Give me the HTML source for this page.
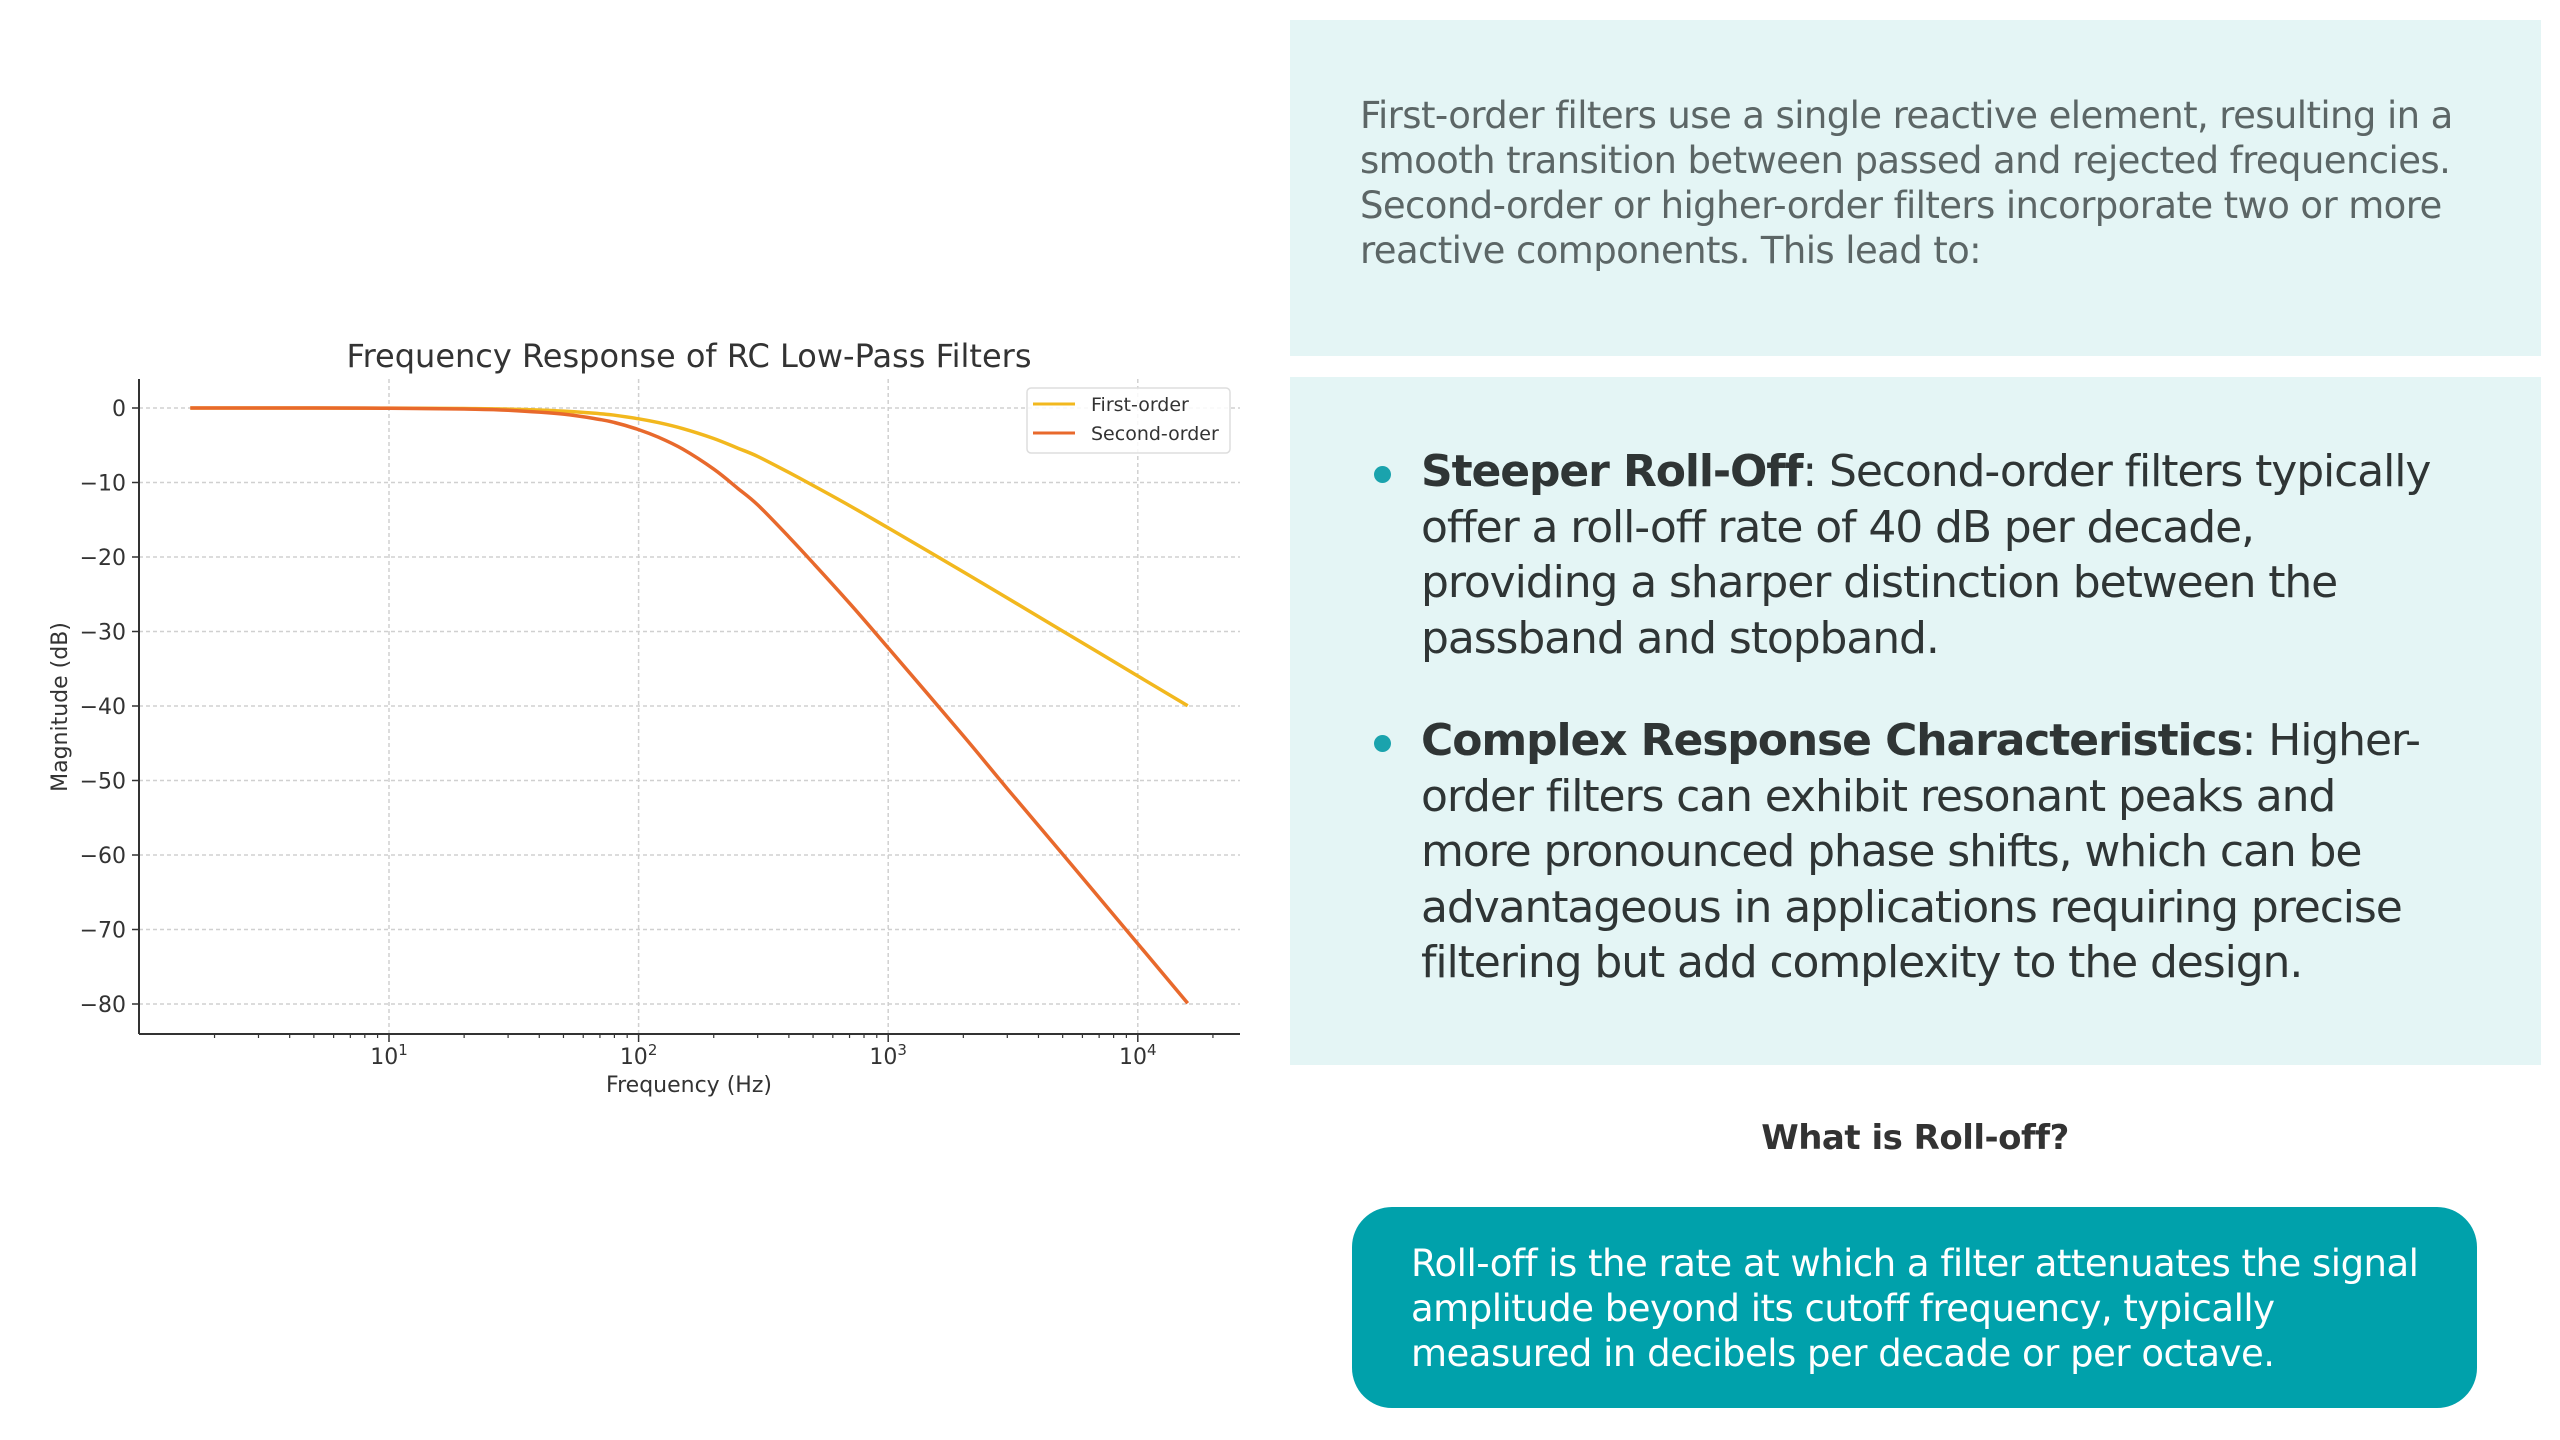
<!DOCTYPE html>
<html><head><meta charset="utf-8">
<style>
body{margin:0;width:2560px;height:1440px;background:#fff;position:relative;overflow:hidden;font-family:"DejaVu Sans","Liberation Sans",sans-serif;}
.box{position:absolute;background:#e4f5f5;}
#p1{position:absolute;left:1360px;top:93px;white-space:nowrap;font-size:37px;line-height:45px;color:#5c6666;letter-spacing:-0.6px;}
ul{position:absolute;left:1380px;top:444px;margin:0;padding:0;list-style:none;font-size:44px;line-height:55.5px;color:#2f3535;letter-spacing:-1.1px;white-space:nowrap;}
li{position:relative;padding-left:41px;margin-bottom:47px;}
li:before{content:"";position:absolute;left:-6px;top:22px;width:17px;height:17px;border-radius:50%;background:#1aa3ad;}
#q{position:absolute;left:1380px;width:1070px;top:1118px;text-align:center;font-size:34px;font-weight:bold;color:#333;letter-spacing:-0.5px;}
#def{position:absolute;left:1352px;top:1207px;width:1125px;height:201px;border-radius:40px;background:#00a1ab;color:#fff;box-sizing:border-box;padding:34px 0 0 59px;font-size:37px;line-height:45px;letter-spacing:-0.5px;white-space:nowrap;}
</style></head><body>
<div class="box" style="left:1290px;top:20px;width:1251px;height:336px"></div>
<div id="p1">First-order filters use a single reactive element, resulting in a<br>smooth transition between passed and rejected frequencies.<br>Second-order or higher-order filters incorporate two or more<br>reactive components. This lead to:</div>
<div class="box" style="left:1290px;top:377px;width:1251px;height:688px"></div>
<ul>
<li><b>Steeper Roll-Off</b>: Second-order filters typically<br>offer a roll-off rate of 40 dB per decade,<br>providing a sharper distinction between the<br>passband and stopband.</li>
<li><b>Complex Response Characteristics</b>: Higher-<br>order filters can exhibit resonant peaks and<br>more pronounced phase shifts, which can be<br>advantageous in applications requiring precise<br>filtering but add complexity to the design.</li>
</ul>
<div id="q">What is Roll-off?</div>
<div id="def">Roll-off is the rate at which a filter attenuates the signal<br>amplitude beyond its cutoff frequency, typically<br>measured in decibels per decade or per octave.</div>
<svg id="chart" width="1280" height="1140" style="position:absolute;left:0;top:300px" viewBox="0 300 1280 1140"></svg>
<script>
const freqs=[1.6,5,10,20,30,50,70,80,100,120,150,200,250,300,400,500,700,1000,2000,3000,5000,10000,15850];
const firstOrder=[0,0,-0.02,-0.07,-0.15,-0.41,-0.77,-0.97,-1.45,-1.96,-2.76,-4.1,-5.4,-6.5,-8.65,-10.4,-13.1,-16.1,-22.0,-25.5,-29.95,-35.97,-39.97];
const secondOrder=[0,0,-0.04,-0.14,-0.30,-0.82,-1.54,-1.94,-2.9,-3.92,-5.5,-8.2,-10.8,-13.0,-17.3,-20.8,-26.2,-32.2,-44.0,-51.1,-59.9,-71.9,-79.9];
const yTicks=[0,-10,-20,-30,-40,-50,-60,-70,-80];
const xDecades=[1,2,3,4];
const NS="http://www.w3.org/2000/svg";
const svg=document.getElementById('chart');
const L=139,R=1240,B=1034,T=379;
function xs(f){return 389+(Math.log10(f)-1)*249.6;}
function ys(v){return 408-v*7.45;}
function mk(tag,a,parent){const e=document.createElementNS(NS,tag);for(const k in a)e.setAttribute(k,a[k]);(parent||svg).appendChild(e);return e;}
yTicks.forEach(t=>{
 const g=mk('line',{x1:L,x2:R,y1:ys(t),y2:ys(t),stroke:'#d0d0d0','stroke-width':1.5,'stroke-dasharray':'4,3'});
 
 
 mk('line',{x1:L-7,x2:L,y1:ys(t),y2:ys(t),stroke:'#333','stroke-width':1.5});
 const tx=mk('text',{x:L-13,y:ys(t)+8,'text-anchor':'end','font-size':22,fill:'#333'});
 tx.textContent=(t<0?'\u2212'+(-t):t);
 
 
});
xDecades.forEach(d=>{
 const x=xs(Math.pow(10,d));
 const g=mk('line',{x1:x,x2:x,y1:T,y2:B,stroke:'#d0d0d0','stroke-width':1.5,'stroke-dasharray':'4,3'});
 
 
 mk('line',{x1:x,x2:x,y1:B,y2:B+8,stroke:'#333','stroke-width':1.5});
 const tx=mk('text',{x:x,y:B+30,'text-anchor':'middle','font-size':22,fill:'#333'});
 tx.innerHTML='10<tspan dy="-9" font-size="15">'+d+'</tspan>';
 
 
});
for(let d=0;d<=4;d++)for(let m=2;m<=9;m++){const f=m*Math.pow(10,d);const x=xs(f);if(x<L||x>R)continue;mk('line',{x1:x,x2:x,y1:B,y2:B+4,stroke:'#333','stroke-width':1.2});}
mk('line',{x1:L,x2:L,y1:T,y2:B,stroke:'#333','stroke-width':2});
mk('line',{x1:L,x2:R,y1:B,y2:B,stroke:'#333','stroke-width':2});
function path(vals,color,name){
 const P=freqs.map((f,i)=>[xs(f),ys(vals[i])]);
 let d='M'+P[0][0].toFixed(1)+','+P[0][1].toFixed(1);
 for(let i=0;i<P.length-1;i++){
  const p0=P[Math.max(0,i-1)],p1=P[i],p2=P[i+1],p3=P[Math.min(P.length-1,i+2)];
  const c1=[p1[0]+(p2[0]-p0[0])/6,p1[1]+(p2[1]-p0[1])/6];
  const c2=[p2[0]-(p3[0]-p1[0])/6,p2[1]-(p3[1]-p1[1])/6];
  d+='C'+c1.map(v=>v.toFixed(1)).join(',')+' '+c2.map(v=>v.toFixed(1)).join(',')+' '+p2.map(v=>v.toFixed(1)).join(',');
 }
 const p=mk('path',{d:d,fill:'none',stroke:color,'stroke-width':3.5,'stroke-linejoin':'round'});
 
 
}
path(firstOrder,'#f2b81e','first-order-line');
path(secondOrder,'#e8692c','second-order-line');
let t=mk('text',{x:689,y:367,'text-anchor':'middle','font-size':32,fill:'#333'});t.textContent='Frequency Response of RC Low-Pass Filters';


t=mk('text',{x:689,y:1092,'text-anchor':'middle','font-size':22,fill:'#333'});t.textContent='Frequency (Hz)';


t=mk('text',{x:0,y:0,'text-anchor':'middle','font-size':22,fill:'#333',transform:'translate(67,707) rotate(-90)'});t.textContent='Magnitude (dB)';


const lg=mk('rect',{x:1027,y:388,width:203,height:65,rx:4,fill:'#fff','fill-opacity':0.85,stroke:'#ddd','stroke-width':1.5});


[['First-order','#f2b81e',404],['Second-order','#e8692c',433]].forEach(a=>{
 mk('line',{x1:1033,x2:1075,y1:a[2],y2:a[2],stroke:a[1],'stroke-width':3});
 const tx=mk('text',{x:1091,y:a[2]+7,'font-size':19,fill:'#333'});tx.textContent=a[0];
 
 
});
</script>
</body></html>
